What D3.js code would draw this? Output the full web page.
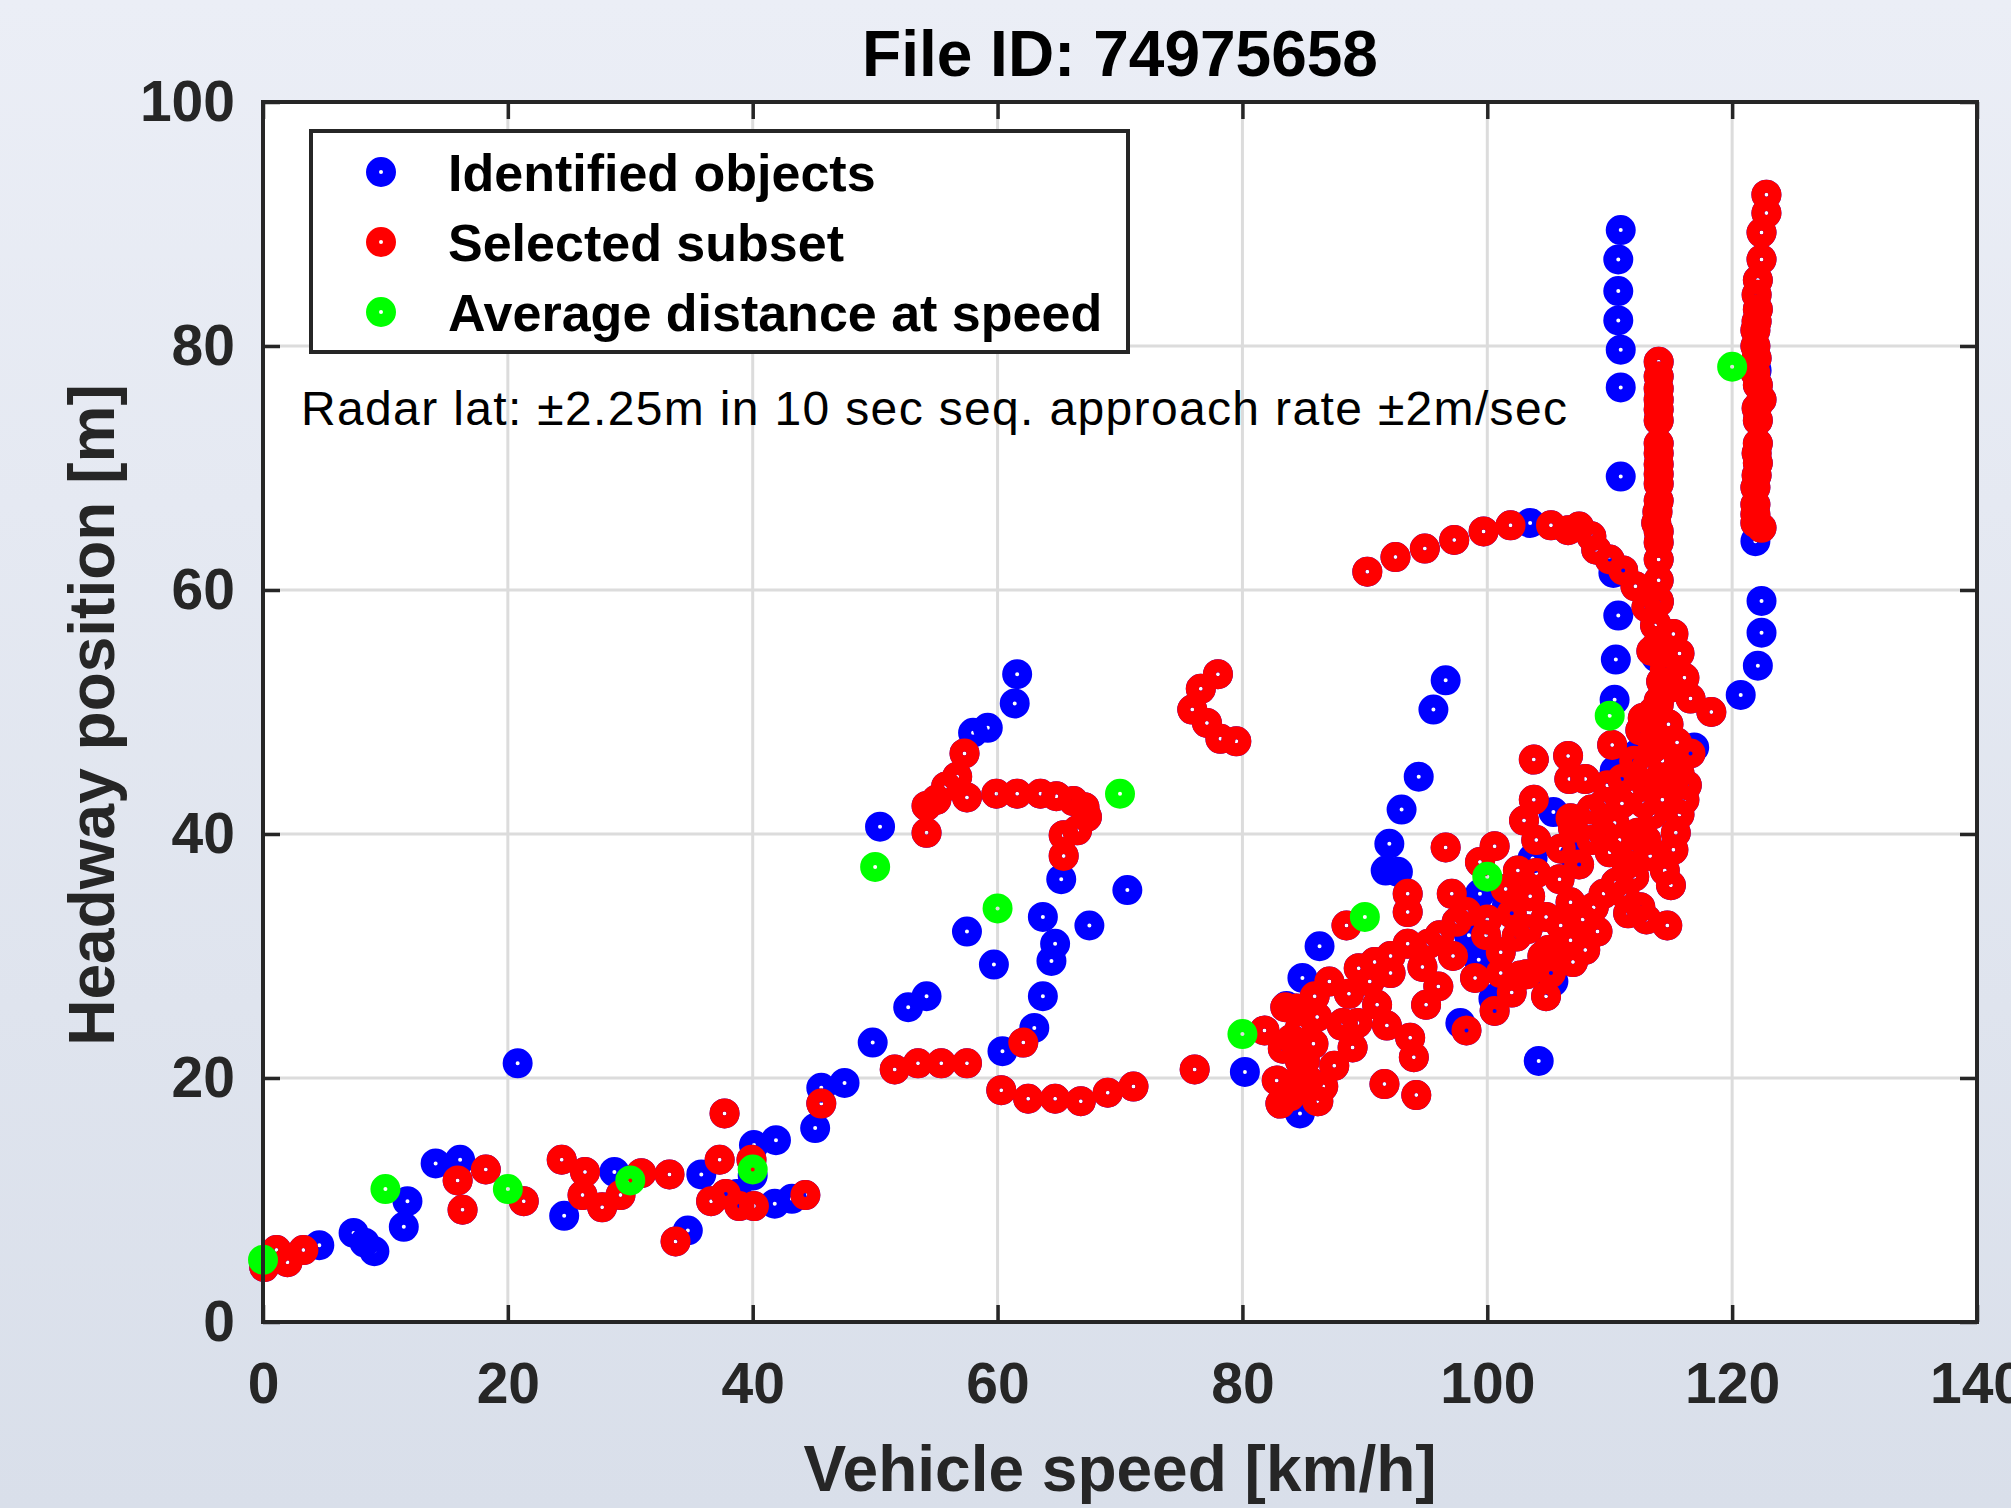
<!DOCTYPE html>
<html>
<head>
<meta charset="utf-8">
<script src="https://cdn.jsdelivr.net/npm/d3@7"></script>
<style>
    html, body { margin: 0; padding: 0; }
    body { width: 2011px; height: 1508px; overflow: hidden; }
    text { font-family: "Liberation Sans", Arial, Helvetica, sans-serif; }
</style>
</head>
<body>
<div id="chart"></div>
<script>

// chart text
const titleText = "File ID: 74975658"
const xLabel = "Vehicle speed [km/h]"
const yLabel = "Headway position [m]"
const noteText = "Radar lat: \u00b12.25m in 10 sec seq. approach rate \u00b12m/sec"
const legendLabels = ["Identified objects", "Selected subset", "Average distance at speed"]

// tick values
const xTicks = [0, 20, 40, 60, 80, 100, 120, 140]
const yTicks = [0, 20, 40, 60, 80, 100]

// identified objects that were not selected: [speed km/h, headway m]
const identifiedOnly = [
    [4.6, 6.3], [7.4, 7.3], [8.3, 6.5], [9.1, 5.8], [11.5, 7.8], [11.8, 9.9], [14.1, 13.0], [16.1, 13.3],
    [20.8, 21.2], [24.6, 8.7], [28.7, 12.3], [34.7, 7.5], [35.8, 12.1], [38.7, 10.5], [40.0, 12.0],
    [40.1, 14.5], [41.9, 14.9], [41.8, 9.7], [43.2, 10.1], [45.1, 15.9], [45.6, 19.2], [47.5, 19.6],
    [49.8, 22.9], [52.7, 25.8], [54.2, 26.7], [50.4, 40.6], [57.5, 32.0], [58.0, 48.3], [59.2, 48.7],
    [59.7, 29.3], [60.4, 22.2], [61.4, 50.7], [61.6, 53.1], [63.0, 24.1], [63.7, 26.7], [63.7, 33.2],
    [64.4, 29.6], [64.7, 31.0], [65.2, 36.3], [67.5, 32.5], [70.6, 35.4], [80.2, 20.5],
    [83.6, 25.9], [84.9, 28.2], [86.3, 30.8], [84.7, 17.1], [91.7, 37.0], [92.7, 36.9], [92.0, 39.2],
    [93.0, 42.0], [94.4, 44.7], [95.6, 50.2], [96.6, 52.6], [97.8, 24.5], [98.5, 31.7], [99.3, 29.7],
    [99.4, 35.1], [100.5, 26.5], [101.6, 34.1], [103.7, 38.0], [104.2, 21.4], [105.4, 27.9],
    [105.4, 41.8], [107.1, 38.2], [110.4, 45.2], [110.5, 54.3], [110.7, 57.9], [110.4, 51.0],
    [110.3, 61.4], [110.9, 69.3], [110.9, 76.6], [110.9, 79.7], [110.7, 82.1], [110.7, 84.5],
    [110.7, 87.1], [110.9, 89.5], [103.5, 65.5], [112.3, 46.6], [113.8, 54.5], [116.9, 47.1],
    [120.7, 51.4], [122.1, 53.8], [122.4, 56.5], [122.4, 59.1], [121.9, 64.0], [122.0, 78.0]
]

// selected subset: [speed km/h, headway m]
const selectedSubset = [
    // low speeds
    [0.1, 4.5], [1.1, 5.9], [2.0, 4.9], [3.3, 5.9], [15.9, 11.6], [16.3, 9.2], [18.2, 12.5], [21.3, 9.9],
    [24.4, 13.3], [26.3, 12.3], [26.1, 10.4], [27.7, 9.4], [29.2, 10.4], [30.9, 12.2], [33.2, 12.1],
    [33.7, 6.6], [37.7, 17.1], [37.3, 13.3], [36.6, 9.9], [37.8, 10.5], [38.9, 9.5], [40.1, 9.5],
    [39.9, 13.3], [44.3, 10.4], [45.6, 17.9],
    // middle speeds
    [51.6, 20.7], [53.5, 21.2], [55.4, 21.2], [57.5, 21.2], [54.2, 40.1], [54.2, 42.3], [55.0, 42.8],
    [55.8, 43.9], [56.7, 44.7], [57.3, 46.6], [57.5, 43.0], [59.9, 43.3], [61.6, 43.3], [63.5, 43.3],
    [64.8, 43.1], [66.2, 42.7], [67.1, 42.2], [67.3, 41.4], [66.5, 40.3], [65.4, 39.9], [65.4, 38.2],
    [62.1, 22.9], [60.3, 19.0], [62.5, 18.3], [64.7, 18.3], [66.8, 18.1], [69.0, 18.8], [71.1, 19.3],
    [76.1, 20.7], [75.9, 50.2], [76.6, 51.9], [78.0, 53.1], [77.1, 49.1], [78.2, 47.8], [79.5, 47.6],
    // band 80-100
    [81.8, 23.9], [83.3, 22.4], [82.8, 19.8], [84.4, 19.7], [85.4, 19.8], [86.2, 18.1], [84.7, 21.4],
    [83.9, 18.5], [83.1, 17.9], [86.1, 18.1], [85.1, 21.4], [86.6, 19.3], [84.4, 25.7], [84.7, 24.1],
    [85.9, 26.7], [86.1, 25.0], [83.5, 25.8], [87.1, 27.9], [88.1, 24.3], [88.2, 24.5], [88.7, 26.9],
    [89.4, 24.5], [88.5, 32.5], [90.4, 27.9], [91.8, 24.3], [92.1, 28.6], [92.1, 30.0], [93.5, 31.0],
    [93.5, 33.6], [93.5, 35.1], [93.7, 23.3], [94.0, 21.7], [91.6, 19.5], [94.2, 18.6], [94.7, 29.1],
    [96.1, 31.7], [96.6, 38.9], [97.1, 35.1], [98.3, 33.6], [98.3, 23.9], [99.4, 37.7], [99.9, 31.7],
    [89.5, 29.0], [90.8, 29.5], [95.2, 31.0], [97.5, 32.8], [91.0, 26.0], [89.0, 22.5], [87.5, 21.0],
    [85.8, 22.8], [84.0, 23.2], [95.0, 26.0], [96.0, 27.5], [97.2, 30.0], [99.0, 28.2],
    // band 100-118
    [100.6, 39.0], [100.6, 25.5], [101.1, 30.3], [101.1, 28.6], [102.4, 31.6], [102.7, 28.4],
    [103.0, 41.1], [103.2, 28.5], [103.3, 32.2], [103.5, 34.9], [103.8, 42.8], [103.8, 46.1],
    [104.0, 36.8], [104.8, 33.2], [105.2, 28.6], [105.9, 36.3], [106.6, 46.4], [106.7, 44.5],
    [106.8, 41.3], [106.8, 34.4], [106.8, 31.3], [108.0, 44.5], [108.7, 34.0], [109.5, 35.1],
    [109.5, 42.5], [110.2, 47.3], [110.4, 40.9], [111.2, 35.1], [111.4, 37.5], [112.3, 40.1],
    [112.7, 49.5], [113.0, 33.0], [113.3, 38.2], [113.5, 41.6], [114.0, 50.9], [114.1, 47.7],
    [114.7, 32.5], [115.0, 35.8], [115.2, 38.7], [115.4, 40.1], [115.7, 41.6], [116.1, 42.8],
    [116.3, 44.0], [115.7, 45.0], [116.6, 46.6], [116.1, 52.8], [116.6, 51.1], [118.3, 50.0],
    [115.2, 56.4], [115.7, 54.8], [113.7, 57.1], [114.0, 59.0], [114.0, 50.6], [102.0, 33.5],
    [105.0, 30.5], [107.5, 37.5], [108.5, 39.5], [110.0, 38.5], [112.0, 36.5], [114.5, 37.0],
    [112.5, 34.0], [111.0, 42.5], [113.0, 44.0], [112.0, 46.0], [113.5, 47.0], [107.0, 29.5],
    [109.0, 32.0], [104.0, 39.5], [114.3, 46.0], [114.0, 44.2], [113.4, 55.0], [114.2, 52.5],
    [100.0, 33.0], [101.5, 35.5], [102.5, 37.0], [104.5, 30.0], [106.0, 32.5], [107.8, 33.0],
    [108.0, 30.5], [106.0, 38.8], [107.0, 40.5], [108.5, 42.0], [109.8, 44.0], [110.8, 39.5],
    [111.8, 38.5], [112.8, 42.5], [114.3, 42.8], [115.0, 44.5], [113.0, 39.5], [111.5, 33.5],
    [110.5, 36.0], [109.5, 40.0], [112.5, 48.5], [113.5, 50.0], [114.8, 49.0], [115.5, 47.5],
    [115.0, 52.0], [114.5, 53.5], [113.0, 45.5], [111.0, 44.5], [104.8, 26.7], [102.0, 27.0],
    // arc
    [90.2, 61.5], [92.5, 62.7], [94.9, 63.4], [97.3, 64.1], [99.7, 64.8], [101.9, 65.3], [105.2, 65.3],
    [106.6, 64.9], [107.5, 65.2], [108.5, 64.4], [108.9, 63.3], [110.0, 62.5], [111.1, 61.6],
    [112.1, 60.3], [113.0, 58.6],
    // column near 114 km/h
    [114.0, 78.7], [114.0, 77.5], [114.0, 76.5], [114.0, 75.6], [114.0, 74.8], [114.0, 73.9],
    [114.0, 72.0], [114.0, 71.2], [114.0, 70.3], [114.0, 69.5], [114.0, 68.7], [114.0, 67.3],
    [113.9, 66.4], [113.8, 65.5], [114.0, 64.8], [114.0, 63.9], [114.0, 62.5], [114.0, 60.8],
    [114.0, 59.1], [113.8, 57.2], [113.8, 55.4], [114.0, 54.8],
    // column near 122 km/h
    [122.8, 92.4], [122.8, 90.9], [122.4, 89.3], [122.4, 87.1], [122.1, 85.4], [122.0, 84.2],
    [122.1, 83.0], [122.0, 82.0], [121.9, 81.3], [121.9, 80.0], [122.0, 79.0], [121.9, 77.8],
    [122.1, 76.8], [122.4, 75.6], [122.0, 74.9], [122.1, 73.9], [122.1, 72.0], [122.0, 71.2],
    [122.1, 70.4], [122.0, 69.4], [121.9, 68.4], [121.9, 67.0], [121.9, 66.2], [121.9, 65.5],
    [122.4, 65.1]
]

// average distance at speed
const avgSpeed = [0, 10, 20, 30, 40, 50, 60, 70, 80, 90, 100, 110, 120]
const avgDistance = [5.1, 10.9, 10.9, 11.6, 12.5, 37.3, 33.9, 43.3, 23.6, 33.2, 36.5, 49.7, 78.3]

// set a dimension
const width = 2011
const height = 1508
const plot = { left: 263, right: 1977, top: 102, bottom: 1322 }

const colors = { identified: "#0000ff", selected: "#ff0000", average: "#00ff00" }
const axisColor = "#262626"

// create a svg
const svg = d3
    .select('#chart')
    .append('svg')
    .attr('width', width)
    .attr('height', height)

// background gradient of the figure
const defs = svg.append("defs")
const grad = defs.append("linearGradient")
    .attr("id", "bg")
    .attr("x1", 0).attr("y1", 0)
    .attr("x2", 0).attr("y2", 1)
grad.append("stop").attr("offset", "0%").attr("stop-color", "#ebeef6")
grad.append("stop").attr("offset", "100%").attr("stop-color", "#d9dfea")

svg.append("rect")
    .attr("width", width)
    .attr("height", height)
    .attr("fill", "url(#bg)")

// scale using domain and range
const xScale = d3.scaleLinear().domain([0, 140]).range([plot.left, plot.right])
const yScale = d3.scaleLinear().domain([0, 100]).range([plot.bottom, plot.top])

// axes area
svg.append("rect")
    .attr("x", plot.left)
    .attr("y", plot.top)
    .attr("width", plot.right - plot.left)
    .attr("height", plot.bottom - plot.top)
    .attr("fill", "white")

// grid
const gridGroup = svg.append("g").attr("id", "gridGroup")
gridGroup.selectAll(".vgrid")
    .data(xTicks.slice(1, -1))
    .enter()
    .append("line")
    .attr("x1", d => xScale(d)).attr("x2", d => xScale(d))
    .attr("y1", plot.top).attr("y2", plot.bottom)
gridGroup.selectAll(".hgrid")
    .data(yTicks.slice(1, -1))
    .enter()
    .append("line")
    .attr("x1", plot.left).attr("x2", plot.right)
    .attr("y1", d => yScale(d)).attr("y2", d => yScale(d))
gridGroup.selectAll("line")
    .attr("stroke", "#dcdcdc")
    .attr("stroke-width", 3)

// annotation sits over the grid
svg.append("text")
    .attr("x", 301)
    .attr("y", 425)
    .attr("fill", "black")
    .attr("textLength", 1266)
    .attr("lengthAdjust", "spacing")
    .style("font-size", "48px")
    .text(noteText)

// ring markers
const markerGroup = svg.append("g").attr("id", "markerGroup")

const drawRings = (data, color, getX, getY) => {
    markerGroup.append("g")
        .selectAll("circle")
        .data(data)
        .enter()
        .append("circle")
        .attr("cx", d => xScale(getX(d)))
        .attr("cy", d => yScale(getY(d)))
        .attr("r", 8.5)
        .attr("fill", "none")
        .attr("stroke", color)
        .attr("stroke-width", 13)
}

// the selected subset is part of the identified objects
drawRings(identifiedOnly.concat(selectedSubset), colors.identified, d => d[0], d => d[1])
drawRings(selectedSubset, colors.selected, d => d[0], d => d[1])
drawRings(avgSpeed.map((s, i) => [s, avgDistance[i]]), colors.average, d => d[0], d => d[1])

// Add and call X and Y axis
const axisGroup = svg.append("g").attr("id", "axisGroup")

axisGroup.append("g")
    .attr("transform", `translate(0, ${plot.bottom})`)
    .call(d3.axisBottom(xScale).tickValues(xTicks).tickSizeInner(-17).tickSizeOuter(0).tickPadding(41))

axisGroup.append("g")
    .attr("transform", `translate(0, ${plot.top})`)
    .call(d3.axisTop(xScale).tickValues(xTicks).tickSizeInner(-17).tickSizeOuter(0).tickFormat(""))

axisGroup.append("g")
    .attr("transform", `translate(${plot.left}, 0)`)
    .call(d3.axisLeft(yScale).tickValues(yTicks).tickSizeInner(-17).tickSizeOuter(0).tickPadding(28))

axisGroup.append("g")
    .attr("transform", `translate(${plot.right}, 0)`)
    .call(d3.axisRight(yScale).tickValues(yTicks).tickSizeInner(-17).tickSizeOuter(0).tickFormat(""))

axisGroup.selectAll(".domain").remove()
axisGroup.selectAll(".tick line")
    .attr("stroke", axisColor)
    .attr("stroke-width", 3.5)
axisGroup.selectAll(".tick text")
    .attr("fill", axisColor)
    .style("font-size", "57px")
    .style("font-weight", "bold")
    .style("font-family", '"Liberation Sans", Arial, Helvetica, sans-serif')

// box
axisGroup.append("rect")
    .attr("x", plot.left)
    .attr("y", plot.top)
    .attr("width", plot.right - plot.left)
    .attr("height", plot.bottom - plot.top)
    .attr("fill", "none")
    .attr("stroke", axisColor)
    .attr("stroke-width", 4)

// labels
svg.append("text")
    .attr("x", (plot.left + plot.right) / 2)
    .attr("y", 76)
    .attr("text-anchor", "middle")
    .attr("fill", "black")
    .style("font-size", "64px")
    .style("font-weight", "bold")
    .text(titleText)

svg.append("text")
    .attr("x", (plot.left + plot.right) / 2)
    .attr("y", 1491)
    .attr("text-anchor", "middle")
    .attr("fill", axisColor)
    .style("font-size", "64px")
    .style("font-weight", "bold")
    .text(xLabel)

svg.append("text")
    .attr("transform", `translate(114, ${(plot.top + plot.bottom) / 2 + 3}) rotate(-90)`)
    .attr("text-anchor", "middle")
    .attr("fill", axisColor)
    .style("font-size", "64px")
    .style("font-weight", "bold")
    .text(yLabel)

// legend
const legend = svg.append("g").attr("id", "legend")
legend.append("rect")
    .attr("x", 311)
    .attr("y", 131)
    .attr("width", 817)
    .attr("height", 221)
    .attr("fill", "white")
    .attr("stroke", axisColor)
    .attr("stroke-width", 4)

const legendColors = [colors.identified, colors.selected, colors.average]
const legendItems = legend.selectAll(".item")
    .data(legendLabels)
    .enter()
    .append("g")
    .attr("transform", (d, i) => `translate(381, ${172 + i * 70})`)

legendItems.append("circle")
    .attr("r", 8.5)
    .attr("fill", "none")
    .attr("stroke", (d, i) => legendColors[i])
    .attr("stroke-width", 13)

legendItems.append("text")
    .attr("x", 67)
    .attr("y", 19)
    .attr("fill", "black")
    .style("font-size", "52px")
    .style("font-weight", "bold")
    .text(d => d)

</script>
</body>
</html>
